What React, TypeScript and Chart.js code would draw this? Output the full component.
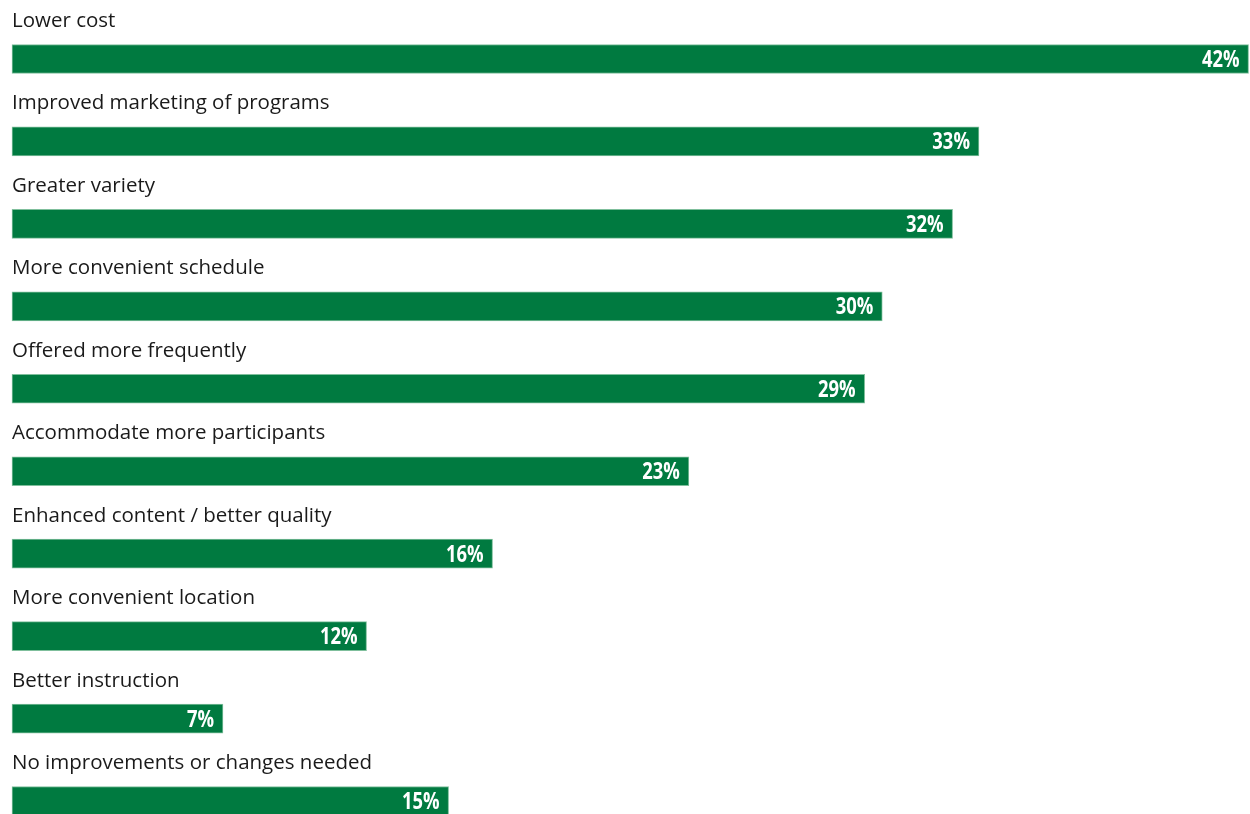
import React, { useEffect, useRef } from "react";
import { Chart, registerables } from "chart.js";

Chart.register(...registerables);

const categories: string[] = [
  "Lower cost",
  "Improved marketing of programs",
  "Greater variety",
  "More convenient schedule",
  "Offered more frequently",
  "Accommodate more participants",
  "Enhanced content / better quality",
  "More convenient location",
  "Better instruction",
  "No improvements or changes needed",
];

const values: number[] = [42.2, 33.0, 32.1, 29.7, 29.1, 23.1, 16.4, 12.1, 7.2, 14.9];

const valueLabels: string[] = ["42%", "33%", "32%", "30%", "29%", "23%", "16%", "12%", "7%", "15%"];

const BAR_COLOR = "#007a40";

const labelPlugin = {
  id: "barLabels",
  afterDatasetsDraw(chart: any) {
    const { ctx } = chart;
    const meta = chart.getDatasetMeta(0);
    meta.data.forEach((bar: any, i: number) => {
      ctx.save();
      // category label above bar
      ctx.font = '20.5px "Open Sans", "Noto Sans", sans-serif';
      ctx.fillStyle = "#1a1a1a";
      ctx.textAlign = "left";
      ctx.textBaseline = "alphabetic";
      ctx.fillText(categories[i], 12, bar.y - 32);
      ctx.restore();
      // value label inside bar end (condensed bold)
      ctx.save();
      const sx = 0.8;
      ctx.translate(bar.x - 9, bar.y + 8);
      ctx.scale(sx, 1);
      ctx.font = 'bold 23px "Open Sans", "Noto Sans", sans-serif';
      ctx.fillStyle = "#ffffff";
      ctx.textAlign = "right";
      ctx.textBaseline = "alphabetic";
      ctx.fillText(valueLabels[i], 0, 0);
      ctx.restore();
    });
  },
};

export default function App() {
  const ref = useRef<HTMLCanvasElement | null>(null);
  useEffect(() => {
    document.body.style.margin = "0";
    if (!ref.current) return;
    const chart = new Chart(ref.current, {
      type: "bar",
      data: {
        labels: categories,
        datasets: [
          {
            data: values,
            backgroundColor: BAR_COLOR,
            borderColor: "#7fbf9c",
            borderWidth: 1,
            borderSkipped: false,
            barThickness: 29,
            clip: false as any,
          },
        ],
      },
      options: {
        indexAxis: "y",
        responsive: false,
        animation: false,
        maintainAspectRatio: false,
        layout: { padding: { left: 12, right: 0, top: 59, bottom: 13 } },
        plugins: {
          legend: { display: false },
          tooltip: { enabled: false },
        },
        scales: {
          x: { display: false, min: 0, max: 42.25 },
          y: { display: false, offset: false },
        },
      },
      plugins: [labelPlugin],
    });
    return () => chart.destroy();
  }, []);
  return (
    <div style={{ position: "absolute", left: 0, top: 0, width: 1250, height: 814, background: "#fff" }}>
      <canvas ref={ref} width={1250} height={814} />
    </div>
  );
}
